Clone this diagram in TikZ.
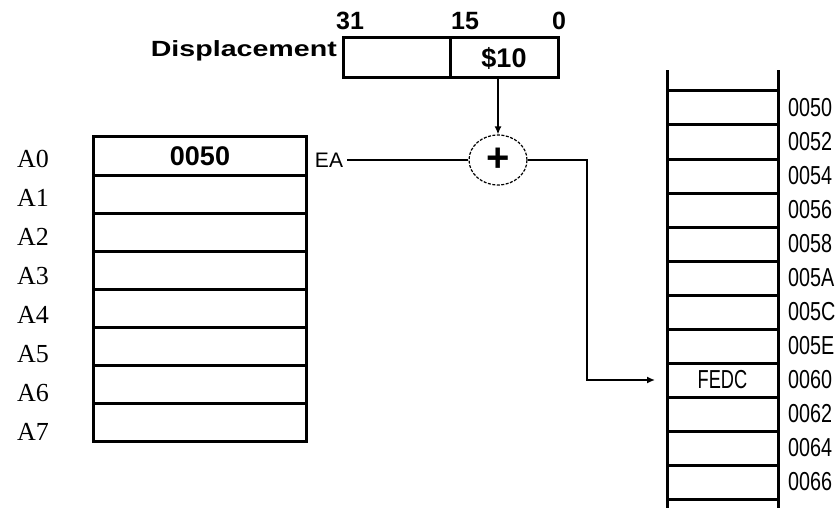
\documentclass[tikz,border=0pt]{standalone}
\usepackage{fontspec}
\setmainfont{Liberation Sans}
\newfontfamily\regfont{Liberation Serif}
\usetikzlibrary{arrows.meta,shapes.geometric}
\newcommand{\slim}[2][0.76]{\scalebox{#1}[1]{#2}}

\begin{document}
\begin{tikzpicture}[x=1pt,y=-1pt,
  cell/.style={draw,line width=3pt,inner sep=0pt,outer sep=0pt},
  reg/.style={cell,minimum width=213pt,minimum height=38pt},
  mem/.style={cell,minimum width=111pt,minimum height=34pt},
  big/.style={font=\fontsize{27}{27}\selectfont\bfseries,inner sep=0pt},
  addr/.style={font=\fontsize{26}{26}\selectfont,inner sep=0pt},
  conn/.style={line width=1.5pt},
  tip/.style={-{Latex[length=8pt,width=7pt]}}]
\useasboundingbox (0,0) rectangle (835,508);
\node[cell,minimum width=107pt,minimum height=40pt] (dhi) at (396.5,58) {};
\node[cell,big,minimum width=108pt,minimum height=40pt,anchor=west] (dlo) at (dhi.east) {\$10};
\node[font=\fontsize{22}{22}\selectfont\bfseries,anchor=base east,inner sep=0pt] (disp) at (337,57) {\scalebox{1.3}[1]{Displacement}};
\foreach \bx/\bit in {350/31,465/15,559/0}
  \node[font=\fontsize{25}{25}\selectfont\bfseries,anchor=base,inner sep=0pt] (b\bit) at (\bx,30) {\bit};
\foreach \i in {0,...,7} {
  \node[reg] (r\i) at (200,156+38*\i) {};
  \node[font=\fontsize{26}{26}\selectfont\regfont,inner sep=0pt] (a\i) at (33,159+39*\i) {A\i};
}
\node[big] (v0) at (r0.center) {0050};
\foreach \a [count=\k from 0] in {0050,0052,0054,0056,0058,005A,005C,005E,0060,0062,0064,0066} {
  \node[mem] (m\k) at (722.5,108+34*\k) {};
  \node[addr,anchor=west] (l\k) at ([xshift=10pt]m\k.east) {\slim{\a}};
}
\draw[line width=3pt] (m0.north west) -- ++(0,-21) (m0.north east) -- ++(0,-21)
  (m11.south west) -- ++(0,9) (m11.south east) -- ++(0,9);
\node[addr] (fedc) at (m8.center) {\slim[0.7]{FEDC}};
\node[font=\fontsize{21}{21}\selectfont,inner sep=0pt] (ea) at (329,160) {EA};
\node[draw,ellipse,line width=1.2pt,dash pattern=on 3pt off 1.5pt,minimum width=58pt,minimum height=50pt,inner sep=0pt,
  font=\fontsize{40}{40}\selectfont\bfseries] (add) at (498,160) {+};
\draw[conn,tip] (add |- dlo.south) -- (add.north);
\draw[conn] ([xshift=4pt]ea.east) -- (add.west);
\coordinate (turn) at (587,160);
\draw[conn,tip,shorten >=12pt] (add.east) -- (turn) |- (m8.west);
\end{tikzpicture}
\end{document}
